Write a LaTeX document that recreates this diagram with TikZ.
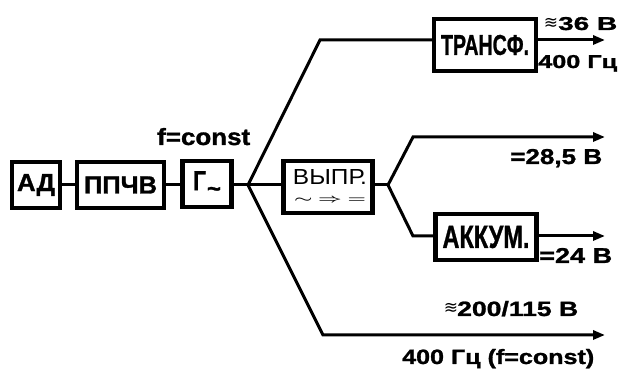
\documentclass[tikz,border=0pt]{standalone}
\usepackage{fontspec}
\setmainfont{Liberation Sans}[BoldFeatures={FakeBold=1.2}]
\newfontfamily\dejavu{DejaVu Sans}
\usetikzlibrary{arrows.meta}
\newcommand{\fitbox}[3]{\resizebox{#1pt}{#2pt}{#3}}
\begin{document}
\begin{tikzpicture}[x=1pt,y=-1pt,
  blk/.style={draw,line width=4.5pt,inner sep=0pt,font=\bfseries},
  wire/.style={line width=3pt},
  outwire/.style={wire,-{Triangle[length=12pt,width=9pt]}},
  lbl/.style={inner sep=0pt,font=\bfseries,anchor=base west},
  tri/.style={inner sep=0pt,font=\dejavu\fontsize{17}{17}\selectfont}]
\useasboundingbox (0,0) rectangle (619,371);
% boxes
\node[blk,minimum width=48pt,minimum height=46pt] (ad) at (36,185) {\fitbox{38}{17}{АД}};
\node[blk,minimum width=87pt,minimum height=46pt] (ppchv) at (120.5,185) {\fitbox{73}{17}{ППЧВ}};
\node[blk,minimum width=49pt,minimum height=46pt] (gen) at (207,184) {\fitbox{13}{19}{Г}\hspace{1pt}\raisebox{-6.5pt}{\fontsize{24}{24}\selectfont\textasciitilde}};
\node[blk,minimum width=89pt,minimum height=52pt] (vypr) at (328,187) {};
\node[inner sep=0pt] (vyprt) at (330,177) {\fitbox{74}{15}{ВЫПР.}};
\node[inner sep=0pt] (vyprs) at (330,200) {\fitbox{72}{4.5}{\boldmath$\sim\ \Rightarrow\ =$}};
\node[blk,minimum width=102pt,minimum height=52pt] (trans) at (485,45) {\fitbox{88}{20}{ТРАНСФ.}};
\node[blk,minimum width=101pt,minimum height=46pt] (akk) at (486,237) {\fitbox{87}{22}{АККУМ.}};
% coordinates
\coordinate (j1) at (248,185);
\coordinate (j2) at (388,185);
\coordinate (up) at (320,40);
\coordinate (dn) at (323,335);
\coordinate (u2) at (413,137);
\coordinate (d2) at (413,236);
\coordinate (e1) at (605,40);
\coordinate (e2) at (605,137);
\coordinate (e3) at (605,236);
\coordinate (e4) at (605,335);
% wires
\draw[wire] (ad) -- (ppchv);
\draw[wire] (ppchv) -- (gen.west |- ppchv);
\draw[wire] (gen.east |- j1) -- (j1) -- (vypr.west |- j1);
\draw[wire] (j1) -- (up) -- (trans.west |- up);
\draw[outwire] (j1) -- (dn) -- (e4);
\draw[outwire] (trans.east |- e1) -- (e1);
\draw[wire] (vypr.east |- j2) -- (j2);
\draw[outwire] (j2) -- (u2) -- (e2);
\draw[wire] (j2) -- (d2) -- (akk.west |- d2);
\draw[outwire] (akk.east |- e3) -- (e3);
% labels
\node[lbl] (fc) at (157,145) {\fitbox{93}{17}{f=const}};
\node[tri] (t36) at (551,23) {≋};
\node[lbl] (l36) at (558,30) {\fitbox{59}{13}{36 В}};
\node[lbl] (l400a) at (538,68) {\fitbox{79}{13}{400 Гц}};
\node[lbl] (l285) at (510,164) {\fitbox{92}{15}{=28,5 В}};
\node[lbl] (l24) at (539,263) {\fitbox{73}{15}{=24 В}};
\node[tri] (t200) at (451,308) {≋};
\node[lbl] (l200) at (457,316) {\fitbox{121}{15}{200/115 В}};
\node[lbl] (l400b) at (402,364) {\fitbox{192}{15}{400 Гц (f=const)}};
\end{tikzpicture}
\end{document}
